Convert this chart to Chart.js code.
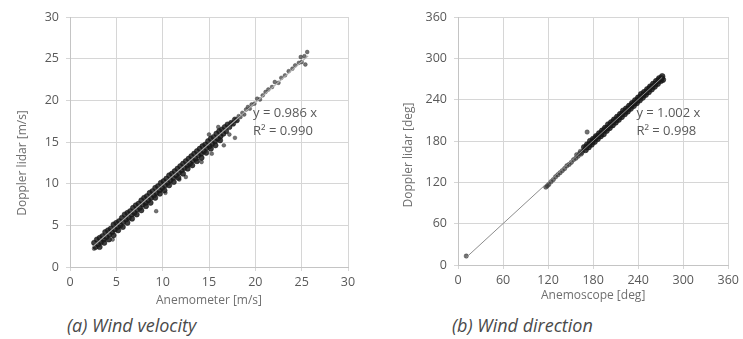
<!DOCTYPE html>
<html>
<head>
<meta charset="utf-8">
<script src="https://cdn.jsdelivr.net/npm/chart.js@4/dist/chart.umd.min.js"></script>
<style>
  body { margin: 0; background: #fff; width: 743px; height: 339px; overflow: hidden; position: relative; }
  .panel { position: absolute; top: 0; }
  .caption { position: absolute; top: 313px; font: italic 18px "Open Sans", sans-serif; color: #4a4a4a; white-space: nowrap; }
</style>
</head>
<body>
<div class="panel" style="left:0"><canvas id="velocityChart" width="360" height="312"></canvas></div>
<div class="panel" style="left:372px"><canvas id="directionChart" width="371" height="312"></canvas></div>
<div class="caption" style="left:67px">(a) Wind velocity</div>
<div class="caption" style="left:452px">(b) Wind direction</div>
<script>
// (a) скорость ветра: анемометр / доплеровский лидар, м/с — плотное ядро облака
const velCoreX = [
  2.6, 2.9, 3.2, 3.5, 3.8, 4.1, 4.4, 4.7, 5.0, 5.3, 5.6, 5.9, 6.2, 6.5, 6.8, 7.1, 7.4, 7.7, 8.0, 8.3, 8.6, 8.9, 9.2, 9.5,
  9.8, 10.1, 10.4, 10.7, 11.0, 11.3, 11.6, 11.9, 12.2, 12.5, 12.8, 13.1, 13.4, 13.7, 14.0, 14.3, 14.6, 14.9, 15.2, 15.5, 15.8, 16.1, 16.4, 16.7,
  2.75, 3.05, 3.35, 3.65, 3.95, 4.25, 4.55, 4.85, 5.15, 5.45, 5.75, 6.05, 6.35, 6.65, 6.95, 7.25, 7.55, 7.85, 8.15, 8.45, 8.75, 9.05, 9.35, 9.65,
  9.95, 10.25, 10.55, 10.85, 11.15, 11.45, 11.75, 12.05, 12.35, 12.65, 12.95, 13.25, 13.55, 13.85, 14.15, 14.45, 14.75, 15.05, 15.35, 15.65, 15.95, 16.25, 16.55, 16.85,
  3.2, 3.7, 4.2, 4.7, 5.2, 5.7, 6.2, 6.7, 7.2, 7.7, 8.2, 8.7, 9.2, 9.7, 10.2, 10.7, 11.2, 11.7, 12.2, 12.7, 13.2, 13.7, 14.2, 14.7, 15.2, 15.7, 16.2,
  17.0, 17.2, 17.4, 17.6, 17.8, 18.0
];
const velCoreY = [
  2.9, 3.3, 3.5, 3.7, 4.2, 4.4, 4.6, 5.1, 5.3, 5.5, 5.9, 6.3, 6.5, 6.7, 7.1, 7.4, 7.6, 8.0, 8.3, 8.5, 8.9, 9.1, 9.5, 9.7,
  10.1, 10.3, 10.6, 11.0, 11.2, 11.5, 11.8, 12.1, 12.4, 12.7, 13.0, 13.3, 13.6, 13.9, 14.2, 14.5, 14.7, 15.1, 15.4, 15.6, 16.0, 16.3, 16.5, 16.8,
  2.4, 2.7, 3.0, 3.3, 3.6, 3.9, 4.2, 4.5, 4.8, 5.0, 5.4, 5.7, 5.9, 6.3, 6.5, 6.9, 7.1, 7.5, 7.7, 8.0, 8.3, 8.6, 8.9, 9.2,
  9.5, 9.8, 10.1, 10.4, 10.7, 11.0, 11.3, 11.6, 11.9, 12.2, 12.4, 12.8, 13.0, 13.4, 13.6, 13.9, 14.3, 14.5, 14.8, 15.1, 15.4, 15.7, 16.0, 16.3,
  2.4, 2.9, 3.3, 3.8, 4.4, 4.8, 5.3, 5.8, 6.3, 6.8, 7.3, 7.7, 8.3, 8.8, 9.2, 9.8, 10.2, 10.7, 11.2, 11.8, 12.2, 12.7, 13.1, 13.7, 14.2, 14.6, 15.2,
  17.1, 16.8, 17.3, 17.2, 17.7, 17.6
];
// редкие точки при сильном ветре и выбросы
const velSparseX = [
  18.2, 18.4, 18.6, 18.8, 19.0, 19.2, 19.4, 19.6, 19.9, 20.2, 20.5, 20.8, 21.1, 21.4, 21.8, 22.1, 22.5, 22.8, 23.2, 23.6, 24.0, 24.3,
  24.7, 25.0, 25.3, 25.6, 25.4, 24.9,
  9.3, 17.8, 17.2, 16.6, 15.3, 14.2, 12.5, 11.8, 10.3, 2.6, 4.6, 16.0, 15.0
];
const velSparseY = [
  18.1, 18.0, 18.5, 18.3, 18.9, 19.2, 19.0, 19.5, 19.6, 20.2, 20.1, 20.6, 21.0, 21.3, 21.6, 22.2, 22.1, 22.7, 23.0, 23.5, 23.8, 24.2,
  24.5, 24.6, 25.3, 25.8, 24.3, 25.2,
  6.7, 15.5, 15.9, 14.6, 13.6, 12.6, 10.8, 10.5, 8.9, 2.2, 3.3, 16.8, 15.9
];
const velTrendX = [2.5, 25.7];
const velTrendY = [2.47, 25.34];

// (b) направление ветра: анемоскоп / доплеровский лидар, град
const dirCoreX = [
  168, 172, 176, 180, 184, 188, 192, 196, 200, 204, 208, 212, 216, 220, 224, 228, 232, 236, 240, 244, 248, 252, 256, 260, 264, 268, 272,
  170, 174, 178, 182, 186, 190, 194, 198, 202, 206, 210, 214, 218, 222, 226, 230, 234, 238, 242, 246, 250, 254, 258, 262, 266, 270, 273,
  171, 175, 179, 183, 187, 191, 195, 199, 203, 207, 211, 215, 219, 223, 227, 231, 235, 239, 243, 247, 251, 255, 259, 263, 267, 271
];
const dirCoreY = [
  171, 175, 180, 183, 187, 191, 195, 199, 204, 207, 211, 215, 219, 224, 227, 231, 235, 239, 243, 248, 251, 255, 259, 263, 267, 271, 274,
  167, 171, 175, 179, 183, 187, 190, 195, 199, 203, 207, 211, 215, 219, 223, 227, 231, 235, 239, 243, 247, 251, 255, 259, 263, 267, 269,
  171, 175, 179, 184, 187, 191, 196, 199, 203, 208, 211, 215, 220, 223, 227, 232, 235, 239, 244, 247, 251, 256, 259, 263, 268, 271
];
const dirSparseX = [11, 117, 119, 121, 124, 127, 130, 133, 136, 139, 142, 145, 148, 151, 154, 157, 160, 162, 164, 166, 158, 163, 165, 172];
const dirSparseY = [13, 113, 115, 117, 121, 124, 128, 131, 134, 137, 140, 144, 146, 149, 153, 155, 158, 162, 161, 165, 160, 165, 163, 193];
const dirTrendX = [11, 272];
const dirTrendY = [11, 272.5];

const velTicks = [0, 5, 10, 15, 20, 25, 30];
const dirTicks = [0, 60, 120, 180, 240, 300, 360];

Chart.defaults.font.family = '"Open Sans", sans-serif';
Chart.defaults.color = '#595959';

const gridColor = '#d6d6d6';

// Подписи уравнения регрессии и вертикальный заголовок оси
const fitLabelPlugin = {
  id: 'fitLabel',
  afterDatasetsDraw(chart, args, opts) {
    const { ctx, scales: { x, y } } = chart;
    ctx.save();
    ctx.font = '13px "Open Sans", sans-serif';
    ctx.fillStyle = '#595959';
    ctx.textBaseline = 'middle';
    ctx.textAlign = 'left';
    opts.lines.forEach((text, i) => {
      ctx.fillText(text, x.getPixelForValue(opts.x), y.getPixelForValue(opts.y[i]));
    });
    ctx.translate(opts.titleX, opts.titleY);
    ctx.rotate(-Math.PI / 2);
    ctx.textAlign = 'center';
    ctx.font = '12px "Open Sans", sans-serif';
    ctx.fillStyle = '#6f6f6f';
    ctx.fillText(opts.title, 0, 0);
    ctx.restore();
  },
};

function toPoints(xs, ys) {
  return xs.map((v, i) => ({ x: v, y: ys[i] }));
}

function makeChart(canvasId, cfg) {
  const ctx = document.getElementById(canvasId).getContext('2d');
  return new Chart(ctx, {
    type: 'scatter',
    data: {
      datasets: [
        {
          type: 'line',
          label: 'trend',
          data: toPoints(cfg.trendX, cfg.trendY),
          borderColor: cfg.trendColor,
          borderWidth: cfg.trendWidth,
          pointRadius: 0,
          order: 0,
        },
        {
          label: 'core',
          data: toPoints(cfg.coreX, cfg.coreY),
          pointStyle: 'circle',
          pointRadius: cfg.coreRadius,
          backgroundColor: 'rgba(28,28,28,0.85)',
          borderColor: 'rgba(20,20,20,0.9)',
          borderWidth: 0.6,
          order: 1,
        },
        {
          label: 'sparse',
          data: toPoints(cfg.sparseX, cfg.sparseY),
          pointStyle: 'circle',
          pointRadius: cfg.sparseRadius,
          backgroundColor: 'rgba(55,55,55,0.7)',
          borderColor: 'rgba(50,50,50,0.8)',
          borderWidth: 0.5,
          order: 2,
        },
      ],
    },
    options: {
      animation: false,
      responsive: false,
      events: [],
      layout: { padding: { top: 17, right: cfg.padRight, bottom: 0, left: 0 } },
      plugins: {
        legend: { display: false },
        tooltip: { enabled: false },
        fitLabel: cfg.label,
      },
      scales: {
        x: {
          type: 'linear',
          min: cfg.ticks[0],
          max: cfg.ticks[cfg.ticks.length - 1],
          afterBuildTicks: (scale) => { scale.ticks = cfg.ticks.map((v) => ({ value: v })); },
          afterFit: (scale) => { scale.height = cfg.xHeight; },
          grid: { color: gridColor, tickLength: 4 },
          border: { color: '#c4c4c4' },
          ticks: { padding: 4, font: { size: 12.5 }, color: '#595959', maxRotation: 0 },
          title: {
            display: true,
            text: cfg.xTitle,
            color: '#6f6f6f',
            font: { size: 12 },
            padding: { top: 0, bottom: cfg.xTitlePad },
          },
        },
        y: {
          type: 'linear',
          min: cfg.ticks[0],
          max: cfg.ticks[cfg.ticks.length - 1],
          afterBuildTicks: (scale) => { scale.ticks = cfg.ticks.map((v) => ({ value: v })); },
          afterFit: (scale) => { scale.width = cfg.yWidth; },
          grid: { color: gridColor, tickLength: 4 },
          border: { color: '#c4c4c4' },
          ticks: { padding: 7, font: { size: 12.5 }, color: '#595959' },
        },
      },
    },
    plugins: [fitLabelPlugin],
  });
}

makeChart('velocityChart', {
  coreX: velCoreX,
  coreY: velCoreY,
  sparseX: velSparseX,
  sparseY: velSparseY,
  trendX: velTrendX,
  trendY: velTrendY,
  trendColor: '#b0b0b0',
  trendWidth: 1.2,
  coreRadius: 2.6,
  sparseRadius: 1.9,
  ticks: velTicks,
  xTitle: 'Anemometer [m/s]',
  xTitlePad: 4,
  xHeight: 45,
  yWidth: 70,
  padRight: 12,
  label: { lines: ['y = 0.986 x', 'R² = 0.990'], x: 19.75, y: [18.45, 16.3], title: 'Doppler lidar [m/s]', titleX: 23, titleY: 163 },
});

makeChart('directionChart', {
  coreX: dirCoreX,
  coreY: dirCoreY,
  sparseX: dirSparseX,
  sparseY: dirSparseY,
  trendX: dirTrendX,
  trendY: dirTrendY,
  trendColor: '#8c8c8c',
  trendWidth: 1,
  coreRadius: 2.8,
  sparseRadius: 2.2,
  ticks: dirTicks,
  xTitle: 'Anemoscope [deg]',
  xTitlePad: 9,
  xHeight: 47,
  yWidth: 86,
  padRight: 11,
  label: { lines: ['y = 1.002 x', 'R² = 0.998'], x: 237.6, y: [220.6, 194.5], title: 'Doppler lidar [deg]', titleX: 37, titleY: 155 },
});
</script>
</body>
</html>
